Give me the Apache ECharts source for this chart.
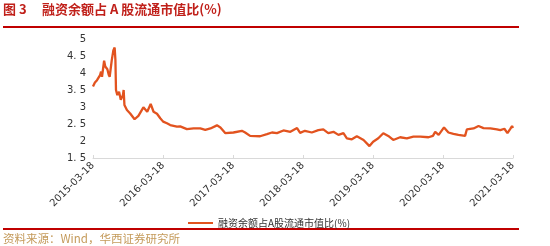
<!DOCTYPE html>
<html>
<head>
<meta charset="utf-8">
<script src="https://cdn.jsdelivr.net/npm/echarts@6/dist/echarts.min.js"></script>
<style>
html,body{margin:0;padding:0;background:#fff;}
#c{width:550px;height:246px;}
</style>
</head>
<body>
<div id="c"></div>
<script>
var titleText = '图 3';
var titleMain = '融资余额占 A 股流通市值比(%)';
var seriesName = '融资余额占A股流通市值比(%)';
var sourceText = '资料来源：Wind，华西证券研究所';

var tickLabels = ['2015-03-18','2016-03-18','2017-03-18','2018-03-18','2019-03-18','2020-03-18','2021-03-18'];
var yTicks = [1.5, 2, 2.5, 3, 3.5, 4, 4.5, 5];

var dates = [
'2015-03-18','2015-03-28','2015-04-08','2015-04-24','2015-04-29','2015-05-04','2015-05-15','2015-05-21','2015-06-01','2015-06-08',
'2015-06-13','2015-06-24','2015-07-02','2015-07-09','2015-07-13','2015-07-16','2015-07-23','2015-08-01','2015-08-10','2015-08-21',
'2015-08-25','2015-08-29','2015-09-11','2015-09-28','2015-10-21','2015-11-10','2015-12-06','2015-12-26','2016-01-13','2016-01-28',
'2016-02-15','2016-03-03','2016-03-18','2016-04-07','2016-04-24','2016-05-29','2016-06-15','2016-07-20','2016-08-24','2016-09-28',
'2016-10-24','2016-11-20','2016-12-24','2017-01-11','2017-02-06','2017-03-20','2017-05-03','2017-05-20','2017-06-15','2017-08-06',
'2017-09-11','2017-10-07','2017-11-02','2017-12-06','2018-01-11','2018-02-15','2018-03-03','2018-03-28','2018-05-03','2018-06-06',
'2018-07-02','2018-07-28','2018-08-24','2018-09-19','2018-10-15','2018-11-02','2018-11-28','2018-12-24','2019-01-02','2019-01-28',
'2019-02-28','2019-03-19','2019-04-15','2019-05-11','2019-06-06','2019-07-02','2019-08-07','2019-09-11','2019-10-15','2019-11-20',
'2020-01-02','2020-01-25','2020-02-06','2020-02-24','2020-03-23','2020-04-15','2020-05-11','2020-06-06','2020-07-11','2020-07-20',
'2020-08-24','2020-09-19','2020-10-15','2020-11-20','2020-12-24','2021-01-11','2021-02-01','2021-02-17','2021-03-03','2021-03-13',
'2021-03-18'
];
var values = [
3.60,3.72,3.79,3.94,4.04,3.89,4.36,4.19,4.11,3.95,
3.89,4.38,4.66,4.75,4.38,3.50,3.35,3.45,3.21,3.35,
3.50,3.06,2.91,2.81,2.64,2.74,2.99,2.86,3.09,2.86,
2.80,2.67,2.57,2.52,2.47,2.42,2.43,2.35,2.37,2.37,
2.33,2.37,2.46,2.40,2.23,2.25,2.30,2.25,2.15,2.14,
2.20,2.25,2.23,2.31,2.27,2.38,2.24,2.30,2.25,2.32,
2.34,2.23,2.27,2.18,2.23,2.08,2.05,2.14,2.18,2.03,
1.85,1.98,2.08,2.23,2.15,2.03,2.11,2.08,2.13,2.13,
2.11,2.15,2.27,2.18,2.40,2.25,2.21,2.18,2.15,2.34,
2.37,2.44,2.38,2.37,2.34,2.32,2.36,2.23,2.35,2.44,
2.38
];

var DAY = 86400000;
var pd = function(s){ return Math.round(Date.UTC(+s.slice(0,4), +s.slice(5,7)-1, +s.slice(8,10)) / DAY); };
var pad = function(n){ return (n < 10 ? '0' : '') + n; };
var fmt = function(d){ var t = new Date(d * DAY); return t.getUTCFullYear() + '-' + pad(t.getUTCMonth()+1) + '-' + pad(t.getUTCDate()); };
var tickVals = tickLabels.map(pd);
var data = dates.map(function(d, i){ return [pd(d), values[i]]; });

var chart = echarts.init(document.getElementById('c'), null, {renderer:'canvas'});
var cjk = '"Noto Sans CJK SC", "DejaVu Sans", sans-serif';
chart.setOption({
  animation: false,
  backgroundColor: '#ffffff',
  textStyle: {fontFamily: cjk},
  grid: {left: 93, right: 37, top: 39, bottom: 88, containLabel: false},
  xAxis: {
    type: 'value',
    min: tickVals[0],
    max: tickVals[tickVals.length - 1],
    splitLine: {show: false},
    axisLine: {show: true, lineStyle: {color: '#d9d9d9', width: 1}},
    axisTick: {show: true, inside: true, length: 3, customValues: tickVals, lineStyle: {color: '#d9d9d9'}},
    axisLabel: {
      customValues: tickVals,
      showMinLabel: true,
      showMaxLabel: true,
      rotate: 45,
      fontSize: 10,
      color: '#333',
      margin: 6,
      fontFamily: '"DejaVu Sans", sans-serif',
      formatter: function(v){ return fmt(v); }
    }
  },
  yAxis: {
    type: 'value',
    min: yTicks[0],
    max: yTicks[yTicks.length - 1],
    interval: 0.5,
    splitLine: {show: false},
    axisLine: {show: false},
    axisTick: {show: false},
    axisLabel: {fontSize: 10, color: '#333', margin: 7, fontFamily: '"DejaVu Sans", sans-serif',
      formatter: function(v){ return String(v).replace('.', '. '); }}
  },
  legend: {
    show: true,
    left: 183,
    top: 213,
    icon: 'rect',
    itemWidth: 25,
    itemHeight: 2,
    itemGap: 2,
    textStyle: {fontSize: 10, color: '#333', fontFamily: cjk},
    data: [seriesName]
  },
  series: [{
    name: seriesName,
    type: 'line',
    data: data,
    showSymbol: false,
    symbol: 'none',
    lineStyle: {color: '#E2531F', width: 2.3},
    itemStyle: {color: '#E2531F'}
  }],
  graphic: [
    {type: 'text', left: 3, top: 3, style: {text: titleText, fontSize: 13, fontWeight: 'bold', fill: '#C0201A', fontFamily: cjk}},
    {type: 'text', left: 42, top: 3, style: {text: titleMain, fontSize: 13, fontWeight: 'bold', fill: '#C0201A', fontFamily: cjk}},
    {type: 'rect', shape: {x: 3, y: 26, width: 516, height: 2}, style: {fill: '#C00000'}},
    {type: 'rect', shape: {x: 3, y: 228, width: 516, height: 2}, style: {fill: '#C00000'}},
    {type: 'text', left: 3, top: 233, style: {text: sourceText, fontSize: 11.5, fill: '#C49A5A', fontFamily: cjk}}
  ]
});
</script>
</body>
</html>
